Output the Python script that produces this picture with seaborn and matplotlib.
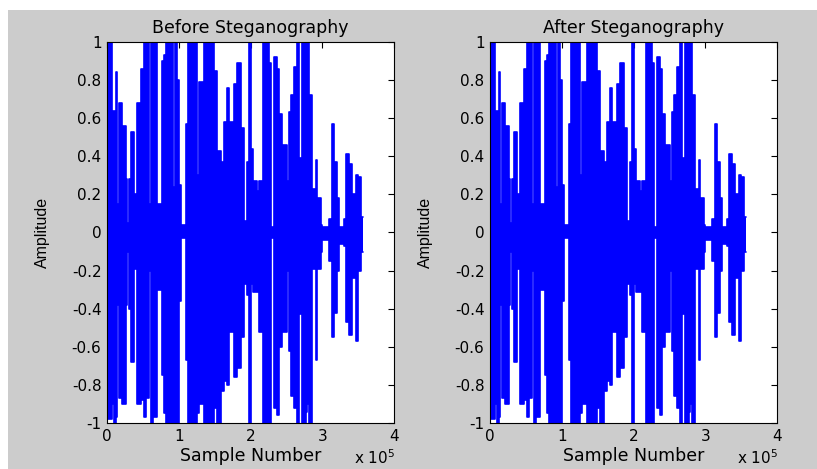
import numpy as np
import pandas as pd
import matplotlib
matplotlib.use("Agg")
import matplotlib.pyplot as plt
import seaborn as sns
from matplotlib.patches import Rectangle

# Envelope of the audio signal:
# start of each stretch (sample number), highest and lowest amplitude in that stretch
seg_start = [0, 6970, 9760, 12540, 13940, 16720, 20910, 26480, 27870, 30660,
             33450, 37630, 41810, 47390, 51570, 54350, 58540, 61320, 64110, 69690,
             76650, 79440, 82230, 91980, 94770, 97560, 100350, 103130, 110100, 112890,
             115680, 117070, 125430, 128220, 135190, 149130, 153310, 158880, 163060, 167240,
             170030, 177000, 181180, 186760, 190940, 195120, 197910, 200690, 203480, 209060,
             211840, 217420, 225780, 228570, 232750, 236930, 239720, 243900, 250870, 253650,
             256440, 260620, 264800, 267590, 271770, 277350, 278740, 281530, 285710, 291290,
             292690, 298260, 299660, 309410, 312200, 313590, 316380, 320560, 323350, 330320,
             333110, 337290, 341470, 347050, 349840, 354020]
seg_top = [1.0, 0.64, 0.64, 0.84, 0.15, 0.68, 0.56, 0.28, 0.05, 0.28,
           0.53, 0.2, 0.68, 0.86, 1.0, 1.0, 0.15, 1.0, 1.0, 0.15,
           0.9, 0.93, 1.0, 0.24, 1.0, 0.8, 0.25, 0.04, 0.57, 1.0,
           0.25, 1.0, 0.3, 0.79, 1.0, 0.85, 0.43, 0.37, 0.58, 0.76,
           0.58, 0.78, 0.89, 0.55, 0.06, 0.37, 1.0, 0.44, 0.27, 0.22,
           0.27, 1.0, 0.89, 0.03, 0.92, 0.86, 0.62, 0.46, 0.27, 0.63,
           0.72, 0.87, 1.0, 0.39, 1.0, 0.64, 1.0, 0.72, 0.23, 0.38,
           0.18, 0.04, 0.03, 0.07, 0.01, 0.57, 0.37, 0.18, 0.03, 0.07,
           0.41, 0.36, 0.2, 0.3, 0.29, 0.08]
seg_bottom = [-0.98, -0.9, -1.0, -0.97, -0.38, -0.87, -0.9, -0.38, -0.1, -0.4,
              -0.68, -0.19, -0.9, -0.88, -0.97, -0.87, -0.2, -1.0, -0.97, -0.3,
              -0.75, -0.95, -1.0, -1.0, -1.0, -1.0, -0.36, -0.03, -0.67, -1.0,
              -0.8, -1.0, -0.95, -0.9, -1.0, -0.92, -1.0, -0.83, -0.78, -0.8,
              -0.52, -0.76, -0.71, -0.55, -0.27, -0.33, -1.0, -0.27, -0.31, -0.31,
              -0.52, -1.0, -1.0, -0.03, -0.92, -0.96, -0.6, -0.52, -0.2, -0.62,
              -0.86, -0.92, -1.0, -0.43, -1.0, -0.94, -0.9, -1.0, -0.19, -0.67,
              -0.19, -0.1, -0.04, -0.15, -0.01, -0.55, -0.42, -0.2, -0.06, -0.07,
              -0.47, -0.54, -0.24, -0.57, -0.2, -0.1]
signal_end = 356790

# the stego signal looks the same on the plot
after_top = list(seg_top)
after_bottom = list(seg_bottom)

titles = ["Before Steganography", "After Steganography"]
x_ticks = [0, 100000, 200000, 300000, 400000]
x_tick_labels = ["0", "1", "2", "3", "4"]
y_ticks = [1, 0.8, 0.6, 0.4, 0.2, 0, -0.2, -0.4, -0.6, -0.8, -1]

sns.set_style("white")
plt.rcParams['font.family'] = ['DejaVu Sans']
plt.rcParams['axes.unicode_minus'] = False
plt.rcParams['text.color'] = 'black'
plt.rcParams['axes.labelcolor'] = 'black'

fig = plt.figure(figsize=(8.17, 4.69), dpi=100)
fig.patch.set_facecolor("white")
fig.add_artist(Rectangle((8 / 817, 0), 1, 1 - 10 / 469, transform=fig.transFigure,
                         facecolor="#cccccc", edgecolor="none", zorder=-10))

axes_left = [107 / 817, 490 / 817]
series = [(seg_top, seg_bottom), (after_top, after_bottom)]

for left, title, (top, bottom) in zip(axes_left, titles, series):
    ax = fig.add_axes([left, 1 - 423 / 469, 287 / 817, 381 / 469])
    ax.set_facecolor("white")

    df = pd.DataFrame({"sample": seg_start + [signal_end],
                       "top": top + [top[-1]],
                       "bottom": bottom + [bottom[-1]]})
    ax.fill_between(df["sample"], df["bottom"], df["top"], step="post",
                    color="#0000ff", linewidth=0)
    sns.lineplot(data=df, x="sample", y="top", ax=ax, color="#0000ff", lw=1.2,
                 drawstyle="steps-post", estimator=None, sort=False)
    sns.lineplot(data=df, x="sample", y="bottom", ax=ax, color="#0000ff", lw=1.2,
                 drawstyle="steps-post", estimator=None, sort=False)

    ax.set_xlim(0, 400000)
    ax.set_ylim(-1, 1)
    ax.set_xticks(x_ticks)
    ax.set_xticklabels(x_tick_labels)
    ax.set_yticks(y_ticks)
    ax.set_yticklabels(["%g" % v for v in y_ticks])
    ax.tick_params(direction="in", top=True, right=True, length=4, width=0.8,
                   labelsize=11, colors="black", pad=4)
    for sp in ax.spines.values():
        sp.set_color("black")
        sp.set_linewidth(0.8)
        sp.set_visible(True)

    ax.set_title(title, fontsize=12.5, pad=6.5, color="black")
    ax.set_xlabel("Sample Number", fontsize=12.5)
    ax.set_ylabel("Amplitude", fontsize=11.5, family=["Liberation Sans", "DejaVu Sans"])
    ax.xaxis.set_label_coords(0.5, -0.063)
    ax.yaxis.set_label_coords(-0.199, 0.5)
    ax.text(1.003, -0.09, r"x 10$^{5}$", transform=ax.transAxes, ha="right",
            va="center", fontsize=11)

fig.savefig("out.png", dpi=100, facecolor=fig.get_facecolor())
